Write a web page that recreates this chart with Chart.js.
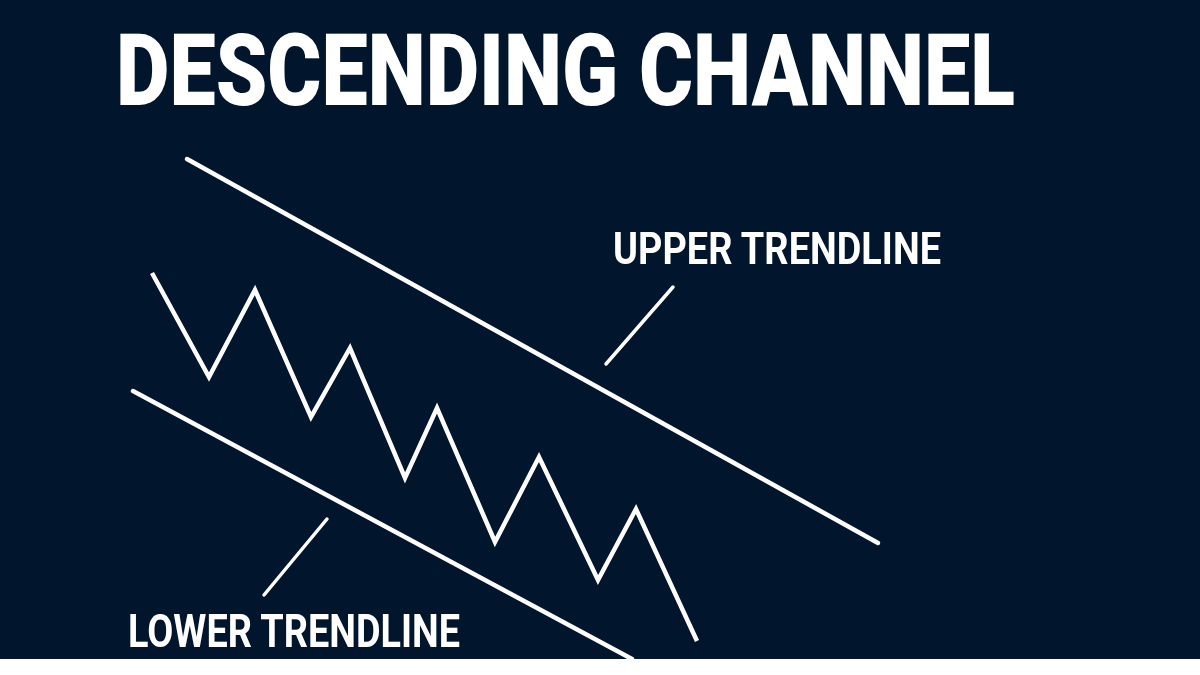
<!DOCTYPE html>
<html>
<head>
<meta charset="utf-8">
<script src="https://cdn.jsdelivr.net/npm/chart.js@4.4.1/dist/chart.umd.min.js"></script>
<style>
    html, body { margin: 0; padding: 0; background: #ffffff; }
    #wrap { position: relative; width: 1200px; height: 659px; background: #01152c; overflow: hidden; }
    #chart { position: absolute; left: 0; top: 0; }
    .lbl {
        position: absolute; white-space: nowrap; color: #ffffff;
        font-family: Roboto, "Liberation Sans", sans-serif; font-weight: 700;
        line-height: 1; transform-origin: 0 0;
    }
    #title { left: 116px; top: 20px; font-size: 101px; font-weight: 900; }
    #upper-lbl { left: 613px; top: 226px; font-size: 45px; }
    #lower-lbl { left: 128px; top: 607px; font-size: 47px; }
</style>
</head>
<body>
<div id="wrap">
    <canvas id="chart" width="1200" height="659"></canvas>
    <div class="lbl" id="title" data-w="899">DESCENDING CHANNEL</div>
    <div class="lbl" id="upper-lbl" data-w="328">UPPER TRENDLINE</div>
    <div class="lbl" id="lower-lbl" data-w="332">LOWER TRENDLINE</div>
</div>
<script>
// price path (bar index / price level)
const priceX = [152, 209, 255, 311, 350, 405, 437, 495, 539, 598, 636, 697];
const priceY = [386, 282, 369, 242, 311, 181, 251, 117, 202, 79, 150, 18];

// channel boundaries
const upperX = [187, 878];
const upperY = [500, 116];
const lowerX = [133, 632];
const lowerY = [268, 0];

// label pointers
const upperPtrX = [673, 606];
const upperPtrY = [372, 295];
const lowerPtrX = [327, 264];
const lowerPtrY = [140, 64];

const toPoints = (xs, ys) => xs.map((x, i) => ({ x: x, y: ys[i] }));

const lineSet = (xs, ys, width, cap) => ({
    data: toPoints(xs, ys),
    showLine: true,
    borderColor: '#ffffff',
    borderWidth: width,
    borderCapStyle: cap,
    borderJoinStyle: 'miter',
    pointRadius: 0,
    tension: 0,
    fill: false
});

new Chart(document.getElementById('chart'), {
    type: 'scatter',
    data: {
        datasets: [
            lineSet(upperX, upperY, 4.5, 'round'),
            lineSet(lowerX, lowerY, 4.5, 'round'),
            lineSet(priceX, priceY, 4.5, 'butt'),
            lineSet(upperPtrX, upperPtrY, 3.5, 'round'),
            lineSet(lowerPtrX, lowerPtrY, 3.5, 'round')
        ]
    },
    options: {
        responsive: false,
        animation: false,
        layout: { padding: 0 },
        plugins: { legend: { display: false }, tooltip: { enabled: false } },
        scales: {
            x: { type: 'linear', min: 0, max: 1200, display: false },
            y: { type: 'linear', min: 0, max: 659, display: false }
        }
    }
});

// squeeze labels to the condensed width of the original
function fitLabels() {
    document.querySelectorAll('.lbl').forEach(el => {
        el.style.transform = 'none';
        const w = el.getBoundingClientRect().width;
        el.style.transform = 'scaleX(' + (parseFloat(el.dataset.w) / w) + ')';
    });
}
fitLabels();
if (document.fonts && document.fonts.ready) document.fonts.ready.then(fitLabels);
</script>
</body>
</html>
